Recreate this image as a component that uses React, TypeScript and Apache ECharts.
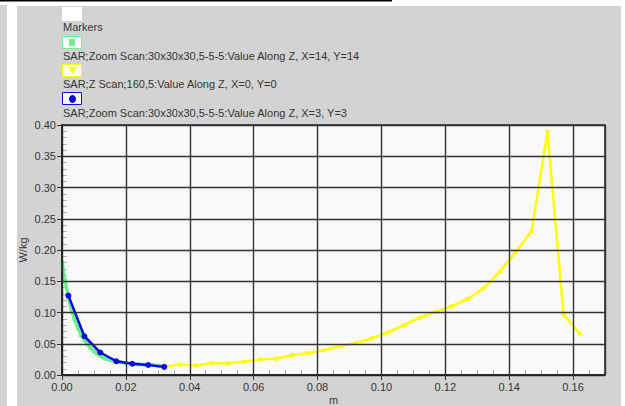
import React, { useEffect, useRef } from "react";
import * as echarts from "echarts";

// Depth positions (m) and SAR values (W/kg)
const zoomX14Depth = [0, 0.001, 0.002, 0.003, 0.004, 0.005, 0.006, 0.007, 0.008, 0.009, 0.010, 0.011, 0.012, 0.013, 0.014, 0.015, 0.016, 0.017, 0.018, 0.020, 0.022, 0.024, 0.026, 0.028, 0.030, 0.032];
const zoomX14Sar = [0.180, 0.150, 0.124, 0.104, 0.088, 0.075, 0.064, 0.056, 0.049, 0.043, 0.038, 0.034, 0.031, 0.028, 0.026, 0.024, 0.023, 0.022, 0.021, 0.019, 0.018, 0.017, 0.0165, 0.016, 0.015, 0.014];

const zScanDepth = [0.032, 0.037, 0.042, 0.047, 0.052, 0.057, 0.062, 0.067, 0.072, 0.077, 0.082, 0.087, 0.092, 0.097, 0.102, 0.107, 0.112, 0.117, 0.122, 0.127, 0.132, 0.137, 0.142, 0.147, 0.152, 0.157, 0.162];
const zScanSar = [0.013, 0.017, 0.015, 0.0187, 0.0187, 0.0213, 0.025, 0.026, 0.032, 0.035, 0.0395, 0.046, 0.051, 0.0587, 0.068, 0.080, 0.0917, 0.101, 0.110, 0.1216, 0.1387, 0.165, 0.197, 0.230, 0.389, 0.097, 0.0667];

const zoomX3Depth = [0.002, 0.007, 0.012, 0.017, 0.022, 0.027, 0.032];
const zoomX3Sar = [0.127, 0.062, 0.036, 0.022, 0.018, 0.016, 0.013];

const legendLabels = [
  "Markers",
  "SAR;Zoom Scan:30x30x30,5-5-5:Value Along Z, X=14, Y=14",
  "SAR;Z Scan;160,5:Value Along Z, X=0, Y=0",
  "SAR;Zoom Scan:30x30x30,5-5-5:Value Along Z, X=3, Y=3",
];

const GREEN = "#6ef08a";
const YELLOW = "#ffff00";
const BLUE = "#0a0ae6";
const FONT = "Liberation Sans, Arial, sans-serif";

const pairs = (xs: number[], ys: number[]) => xs.map((x, i) => [x, ys[i]]);

export default function App() {
  const ref = useRef<HTMLDivElement>(null);

  useEffect(() => {
    if (!ref.current) return;
    const chart = echarts.init(ref.current, null, { renderer: "svg" });

    const labelStyle = { color: "#333", fontSize: 11, fontFamily: FONT };
    const legendText = (text: string, y: number) => ({
      type: "text",
      x: 63,
      y,
      style: { text, fill: "#333", font: `11px ${FONT}`, verticalAlign: "middle" },
    });
    const legendBox = (y: number, stroke: string) => ({
      type: "rect",
      shape: { x: 62.5, y: y + 0.5, width: 19, height: 12 },
      style: { fill: "#fff", stroke, lineWidth: 1 },
    });
    // overlay axis that only carries the light inner minor ticks
    const minorAxis = (max: number, interval: number, position: string, splitNumber: number) => ({
      type: "value",
      min: 0,
      max,
      interval,
      position,
      axisLine: { show: false },
      axisTick: { show: true, inside: true, length: 5, lineStyle: { color: "#b0b0b0" } },
      axisLabel: { show: false },
      splitLine: { show: false },
      minorTick: { show: true, splitNumber, length: 5, lineStyle: { color: "#b0b0b0" } },
    });

    chart.setOption({
      animation: false,
      backgroundColor: "#fff",
      graphic: [
        { type: "rect", z: -10, shape: { x: 0, y: 5, width: 7, height: 401 }, style: { fill: "#d3d3d3" } },
        { type: "rect", z: -10, shape: { x: 17, y: 6, width: 604, height: 400 }, style: { fill: "#d3d3d3" } },
        { type: "rect", z: -10, shape: { x: 0, y: 0, width: 392, height: 1.5 }, style: { fill: "#000" } },
        // legend
        { type: "rect", shape: { x: 62, y: 7, width: 20, height: 14 }, style: { fill: "#fff" } },
        legendText(legendLabels[0], 27),
        legendBox(36, GREEN),
        { type: "rect", shape: { x: 69, y: 39, width: 6, height: 7 }, style: { fill: GREEN } },
        legendText(legendLabels[1], 56),
        legendBox(64, YELLOW),
        { type: "polygon", shape: { points: [[68, 67], [77, 67], [72.5, 74]] }, style: { fill: YELLOW } },
        legendText(legendLabels[2], 83.5),
        legendBox(92, BLUE),
        { type: "ellipse", shape: { cx: 72.5, cy: 99, rx: 3.5, ry: 4 }, style: { fill: BLUE } },
        legendText(legendLabels[3], 112.5),
      ],
      grid: {
        left: 62,
        right: 20,
        top: 125,
        bottom: 31,
        outerBoundsMode: "none",
        containLabel: false,
        show: true,
        backgroundColor: "#f9f9f9",
        borderColor: "#222",
        borderWidth: 1.5,
      },
      xAxis: [
        {
          type: "value",
          min: 0,
          max: 0.17,
          interval: 0.02,
          name: "m",
          nameLocation: "middle",
          nameGap: 19,
          nameMoveOverlap: false,
          nameTextStyle: labelStyle,
          axisLine: { show: true, lineStyle: { color: "#222", width: 1.5 } },
          axisTick: { show: true, length: 5, lineStyle: { color: "#333" } },
          axisLabel: { ...labelStyle, margin: 6, showMaxLabel: false, formatter: (v: number) => v.toFixed(2) },
          splitLine: { show: true, lineStyle: { color: "#333", width: 1.4 } },
          z: 5,
        },
        minorAxis(0.17, 0.02, "bottom", 4),
      ],
      yAxis: [
        {
          type: "value",
          min: 0,
          max: 0.4,
          interval: 0.05,
          name: "W/kg",
          nameLocation: "middle",
          nameGap: 34,
          nameMoveOverlap: false,
          nameTextStyle: labelStyle,
          axisLine: { show: true, lineStyle: { color: "#222", width: 1.5 } },
          axisTick: { show: true, length: 5, lineStyle: { color: "#333" } },
          axisLabel: { ...labelStyle, margin: 6, formatter: (v: number) => v.toFixed(2) },
          splitLine: { show: true, lineStyle: { color: "#333", width: 1.4 } },
          z: 5,
        },
        minorAxis(0.4, 0.05, "left", 5),
      ],
      series: [
        {
          type: "line",
          data: pairs(zoomX14Depth, zoomX14Sar),
          lineStyle: { color: GREEN, width: 3.5 },
          itemStyle: { color: GREEN },
          symbol: "rect",
          symbolSize: 4,
          z: 2,
        },
        {
          type: "line",
          data: pairs(zScanDepth, zScanSar),
          lineStyle: { color: YELLOW, width: 2.5 },
          itemStyle: { color: YELLOW },
          symbol: "rect",
          symbolSize: 4,
          z: 3,
        },
        {
          type: "line",
          data: pairs(zoomX3Depth, zoomX3Sar),
          lineStyle: { color: BLUE, width: 2.5 },
          itemStyle: { color: BLUE },
          symbol: "circle",
          symbolSize: 6,
          z: 4,
        },
      ],
    });

    return () => chart.dispose();
  }, []);

  return <div ref={ref} style={{ position: "fixed", left: 0, top: 0, width: 625, height: 406 }} />;
}
